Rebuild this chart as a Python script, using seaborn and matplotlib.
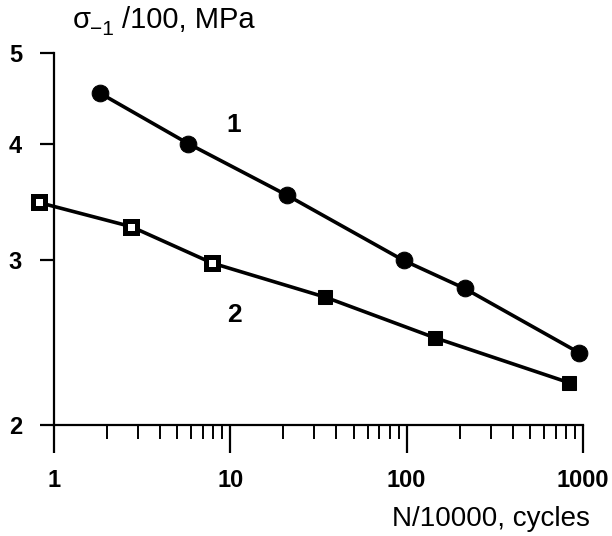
import matplotlib
matplotlib.use("Agg")
import matplotlib.pyplot as plt
import seaborn as sns
import pandas as pd
from matplotlib.ticker import LogLocator, FixedLocator, NullLocator, FixedFormatter

sns.set_theme(style="ticks")
plt.rcParams["font.family"] = ["Liberation Sans", "DejaVu Sans"]
plt.rcParams["text.color"] = "black"
plt.rcParams["xtick.color"] = "black"
plt.rcParams["ytick.color"] = "black"
plt.rcParams["axes.edgecolor"] = "black"

# Fatigue data: cycles (N/10000) and endurance stress (sigma/100, MPa)
n1 = [1.82, 5.77, 21.1, 96, 213, 949]
s1 = [4.53, 4.0, 3.52, 3.0, 2.80, 2.39]

n2 = [0.82, 2.74, 7.9, 34.6, 144, 832]
s2 = [3.46, 3.26, 2.98, 2.74, 2.48, 2.22]
open2 = [True, True, True, False, False, False]

x_ticks = [1, 10, 100, 1000]
x_tick_labels = ["1", "10", "100", "1000"]
y_ticks = [2, 3, 4, 5]
y_tick_labels = ["2", "3", "4", "5"]

df1 = pd.DataFrame({"N": n1, "S": s1})
df2 = pd.DataFrame({"N": n2, "S": s2, "open": open2})

fig = plt.figure(figsize=(6.12, 5.36), dpi=100)
ax = fig.add_axes([0.0882, 0.2071, 0.8644, 0.6940])
ax.set_xscale("log")
ax.set_yscale("log")

lw = 2.6
sns.lineplot(data=df1, x="N", y="S", sort=False, estimator=None, ax=ax,
             color="black", lw=lw, marker="o", markersize=12,
             markerfacecolor="black", markeredgecolor="black", clip_on=False)
sns.lineplot(data=df2, x="N", y="S", sort=False, estimator=None, ax=ax,
             color="black", lw=lw, clip_on=False)
op = df2[df2["open"]]
cl = df2[~df2["open"]]
sns.lineplot(data=op, x="N", y="S", sort=False, estimator=None, ax=ax,
             linestyle="", marker="s", markersize=8, markerfacecolor="white",
             markeredgecolor="black", markeredgewidth=3.6, clip_on=False)
sns.lineplot(data=cl, x="N", y="S", sort=False, estimator=None, ax=ax,
             linestyle="", marker="s", markersize=10.5, markerfacecolor="black",
             markeredgecolor="black", clip_on=False)

ax.set_xlim(1, 1000)
ax.set_ylim(2, 5)

sns.despine(ax=ax)
for side in ("left", "bottom"):
    ax.spines[side].set_linewidth(1.6)
    ax.spines[side].set_color("black")

ax.xaxis.set_major_locator(FixedLocator(x_ticks))
ax.xaxis.set_major_formatter(FixedFormatter(x_tick_labels))
ax.xaxis.set_minor_locator(LogLocator(base=10, subs=range(2, 10), numticks=20))
ax.yaxis.set_major_locator(FixedLocator(y_ticks))
ax.yaxis.set_major_formatter(FixedFormatter(y_tick_labels))
ax.yaxis.set_minor_locator(NullLocator())

ax.tick_params(axis="x", which="major", direction="out", length=20, width=1.6,
               color="black", labelcolor="black", pad=12, labelsize=17)
ax.tick_params(axis="x", which="minor", direction="out", length=10, width=1.4,
               color="black")
ax.tick_params(axis="y", which="major", direction="out", length=10, width=1.6,
               color="black", labelcolor="black", pad=13, labelsize=17)
for lab in ax.get_xticklabels() + ax.get_yticklabels():
    lab.set_fontweight("bold")

ax.set_xlabel("")
ax.set_ylabel("")

# Curve numbers
ax.text(10.4, 4.19, "1", fontsize=19, fontweight="bold", color="black",
        ha="center", va="center")
ax.text(10.6, 2.62, "2", fontsize=19, fontweight="bold", color="black",
        ha="center", va="center")

# Axis titles
fig.text(0.964, 0.018, "N/10000, cycles", fontsize=20, color="black",
         ha="right", va="baseline")
fig.text(0.119, 0.948, "σ", fontsize=21, color="black", ha="left", va="baseline")
fig.text(0.147, 0.935, "−1", fontsize=15, color="black", ha="left", va="baseline")
fig.text(0.199, 0.948, "/100, MPa", fontsize=21, color="black",
         ha="left", va="baseline")

fig.savefig("out.png", dpi=100, facecolor="white")
